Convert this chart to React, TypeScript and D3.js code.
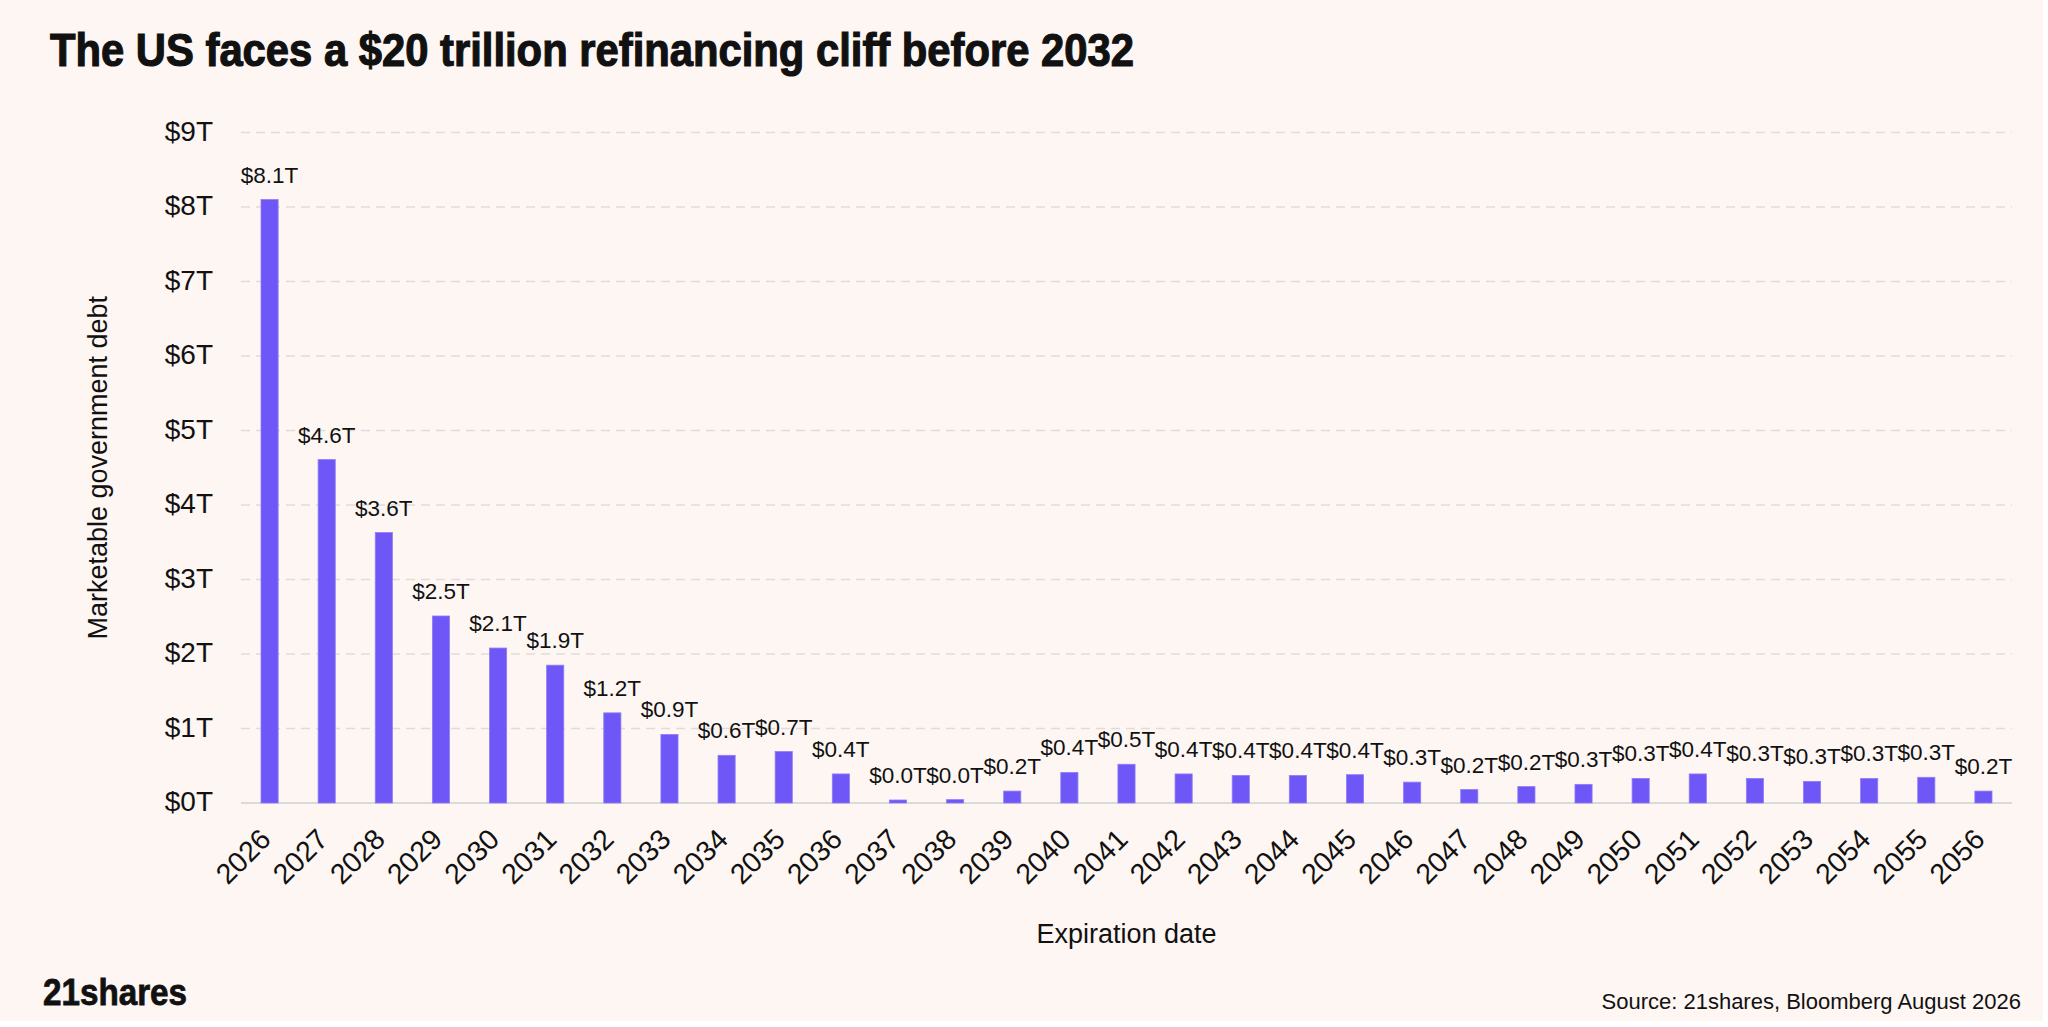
import React from "react";
import * as d3 from "d3";

const years: string[] = [
  "2026", "2027", "2028", "2029", "2030", "2031", "2032", "2033", "2034", "2035", "2036",
  "2037", "2038", "2039", "2040", "2041", "2042", "2043", "2044", "2045", "2046",
  "2047", "2048", "2049", "2050", "2051", "2052", "2053", "2054", "2055", "2056",
];

const debtTrillions: number[] = [
  8.1, 4.61, 3.63, 2.51, 2.08, 1.85, 1.21, 0.92, 0.64, 0.69, 0.39,
  0.04, 0.045, 0.16, 0.41, 0.52, 0.39, 0.37, 0.37, 0.38, 0.28,
  0.18, 0.22, 0.25, 0.33, 0.39, 0.33, 0.29, 0.33, 0.345, 0.16,
];

const yTicks: number[] = [0, 1, 2, 3, 4, 5, 6, 7, 8, 9];

const title = "The US faces a $20 trillion refinancing cliff before 2032";
const yAxisTitle = "Marketable government debt";
const xAxisTitle = "Expiration date";
const sourceText = "Source: 21shares, Bloomberg August 2026";
const logoText = "21shares";

const W = 2048;
const H = 1027;
const BG = "#fdf6f3";
const BAR = "#6e57f6";
const TEXT = "#111111";
const FONT = "'Liberation Sans', Arial, Helvetica, sans-serif";

export default function App() {
  const plotLeft = 241;
  const plotRight = 2012;
  const plotTop = 132.5;
  const plotBottom = 803;

  const x = d3
    .scaleBand<string>()
    .domain(years)
    .range([plotLeft, plotRight])
    .paddingInner(0.7)
    .paddingOuter(0.35);

  const y = d3.scaleLinear().domain([0, 9]).range([plotBottom, plotTop]);

  const fmtTick = (v: number) => `$${d3.format("d")(v)}T`;
  const fmtVal = (v: number) => `$${d3.format(".1f")(v)}T`;

  return (
    <svg
      width={W}
      height={H}
      viewBox={`0 0 ${W} ${H}`}
      style={{ position: "absolute", left: 0, top: 0, display: "block" }}
      fontFamily={FONT}
    >
      <rect x={0} y={0} width={W} height={H} fill="#ffffff" />
      <rect x={0} y={0} width={2043} height={1021} fill={BG} />

      {/* Title */}
      <text
        x={50}
        y={66}
        fontSize={47}
        fontWeight={700}
        fill={TEXT}
        stroke={TEXT}
        strokeWidth={1.2}
        textLength={1084}
        lengthAdjust="spacingAndGlyphs"
      >
        {title}
      </text>

      {/* Gridlines */}
      {yTicks
        .filter((t) => t > 0)
        .map((t) => (
          <line
            key={`g${t}`}
            x1={plotLeft}
            x2={plotRight}
            y1={y(t)}
            y2={y(t)}
            stroke="#e2dcd9"
            strokeWidth={1.5}
            strokeDasharray="9,6"
          />
        ))}
      <line
        x1={plotLeft}
        x2={plotRight}
        y1={y(0)}
        y2={y(0)}
        stroke="#dcdad8"
        strokeWidth={2}
      />

      {/* Y tick labels */}
      {yTicks.map((t) => (
        <text
          key={`yt${t}`}
          x={213}
          y={y(t) + 8}
          fontSize={28}
          textAnchor="end"
          fill={TEXT}
        >
          {fmtTick(t)}
        </text>
      ))}

      {/* Y axis title */}
      <text
        transform={`translate(106.5, ${(plotTop + plotBottom) / 2}) rotate(-90)`}
        fontSize={27}
        textAnchor="middle"
        fill={TEXT}
      >
        {yAxisTitle}
      </text>

      {/* Bars */}
      {years.map((yr, i) => {
        const v = debtTrillions[i];
        const bx = x(yr) as number;
        const by = y(v);
        return (
          <rect
            key={`b${yr}`}
            x={bx}
            y={by}
            width={x.bandwidth()}
            height={y(0) - by}
            fill={BAR}
            stroke="#8e7df8"
            strokeWidth={0.8}
          />
        );
      })}

      {/* Value labels */}
      {years.map((yr, i) => {
        const v = debtTrillions[i];
        const cx = (x(yr) as number) + x.bandwidth() / 2;
        return (
          <text
            key={`v${yr}`}
            x={cx}
            y={y(v) - 17}
            fontSize={22.5}
            textAnchor="middle"
            fill={TEXT}
          >
            {fmtVal(v)}
          </text>
        );
      })}

      {/* X tick labels */}
      {years.map((yr) => {
        const cx = (x(yr) as number) + x.bandwidth() / 2;
        return (
          <text
            key={`x${yr}`}
            transform={`translate(${cx + 3}, 841) rotate(-45)`}
            fontSize={28.5}
            textAnchor="end"
            fill={TEXT}
          >
            {yr}
          </text>
        );
      })}

      {/* X axis title */}
      <text
        x={(plotLeft + plotRight) / 2}
        y={942.5}
        fontSize={27}
        textAnchor="middle"
        fill={TEXT}
      >
        {xAxisTitle}
      </text>

      {/* Logo */}
      <text
        x={43}
        y={1005}
        fontSize={37}
        fontWeight={700}
        fill={TEXT}
        stroke={TEXT}
        strokeWidth={0.8}
        textLength={144}
        lengthAdjust="spacingAndGlyphs"
      >
        {logoText}
      </text>

      {/* Source */}
      <text x={2021} y={1009} fontSize={22} textAnchor="end" fill={TEXT}>
        {sourceText}
      </text>
    </svg>
  );
}
